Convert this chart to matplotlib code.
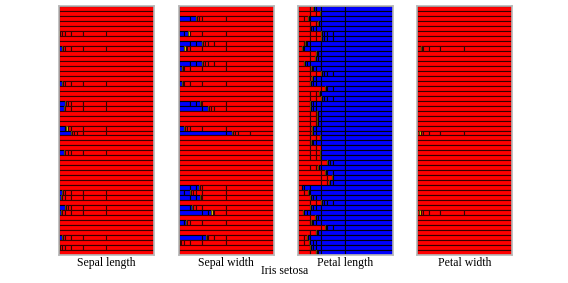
import numpy as np
import matplotlib
matplotlib.use("Agg")
import matplotlib.pyplot as plt

# ---------------- data ----------------
features = ["Sepal length", "Sepal width", "Petal length", "Petal width"]
species = "Iris setosa"
n_rows = 50

# leading segment width per sample (fraction of row), by feature
sepal_length_lead = [0]*50
for r, v in {8: 0.032, 15: 0.028, 19: 0.063, 20: 0.049, 24: 0.077, 25: 0.126,
             29: 0.056, 37: 0.032, 38: 0.018, 40: 0.067, 41: 0.021, 46: 0.032}.items():
    sepal_length_lead[r] = v
sepal_length_mid = [0]*50
for r, v in {5: 0.015, 8: 0.01, 15: 0.012, 19: 0.01, 20: 0.01, 24: 0.018, 25: 0.015,
             29: 0.01, 37: 0.01, 38: 0.01, 40: 0.01, 41: 0.008, 46: 0.01, 48: 0.015}.items():
    sepal_length_mid[r] = v

sepal_width_lead = [0]*50
for r, v in {2: 0.185, 5: 0.105, 7: 0.245, 8: 0.063, 11: 0.245, 12: 0.035, 15: 0.035,
             19: 0.23, 20: 0.31, 24: 0.06, 25: 0.56, 36: 0.213, 37: 0.12, 38: 0.23,
             40: 0.14, 41: 0.343, 43: 0.08, 46: 0.287}.items():
    sepal_width_lead[r] = v
sepal_width_mid = [0]*50
for r, v in {2: 0.012, 5: 0.012, 7: 0.008, 8: 0.012, 11: 0.008, 12: 0.012, 15: 0.015,
             19: 0.01, 20: 0.012, 24: 0.012, 25: 0.015, 36: 0.012, 37: 0.01, 38: 0.012,
             40: 0.014, 41: 0.02, 43: 0.014, 46: 0.012, 47: 0.012}.items():
    sepal_width_mid[r] = v

petal_length_lead = [0.165, 0.23, 0.105, 0.21, 0.135, 0.245, 0.245, 0.08, 0.05, 0.19,
                     0.185, 0.065, 0.14, 0.245, 0.15, 0.13, 0.29, 0.22, 0.245, 0.13,
                     0.125, 0.2, 0.2, 0.2, 0.15, 0.15, 0.23, 0.14, 0.24, 0.23,
                     0.23, 0.31, 0.21, 0.29, 0.36, 0.33, 0.04, 0.11, 0.125, 0.245,
                     0.125, 0.06, 0.18, 0.14, 0.29, 0.19, 0.10, 0.12, 0.13, 0.19]
petal_length_mid = [0.01]*50

petal_width_lead = [0]*50
for r, v in {8: 0.04, 25: 0.025, 41: 0.025}.items():
    petal_width_lead[r] = v
petal_width_mid = [0]*50
for r, v in {8: 0.015, 25: 0.015, 41: 0.015}.items():
    petal_width_mid[r] = v

leads = [sepal_length_lead, sepal_width_lead, petal_length_lead, petal_width_lead]
mids = [sepal_length_mid, sepal_width_mid, petal_length_mid, petal_width_mid]
lead_colors = ["#0000ff", "#0000ff", "#ff0000", "#ff0000"]
rest_colors = ["#ff0000", "#ff0000", "#0000ff", "#ff0000"]
mid_color = "#e8dc00"
edge_of = {"#0000ff": "#000010", "#ff0000": "#3a0000", mid_color: "#5a5000"}


def segments(a, m, lead_c, rest_c, K_lead=4, K_rest=5):
    segs = []
    if a > 0:
        pts = sorted(set([0.0] + [np.floor(a*2**k)/2**k for k in range(1, K_lead+1)] + [a]))
        pts = [p for p in pts if 0 <= p <= a]
        for p0, p1 in zip(pts[:-1], pts[1:]):
            if p1 - p0 > 1e-9:
                segs.append((p0, p1 - p0, lead_c))
    s = a + m
    if m > 0:
        segs.append((a, m, mid_color))
    pts = sorted(set([s] + [np.ceil(s*2**k)/2**k for k in range(1, K_rest+1)] + [1.0]))
    pts = [p for p in pts if s <= p <= 1]
    for p0, p1 in zip(pts[:-1], pts[1:]):
        if p1 - p0 > 1e-9:
            segs.append((p0, p1 - p0, rest_c))
    return segs


W, H = 568, 283
fig = plt.figure(figsize=(W/100, H/100), dpi=100)
plt.rcParams['font.family'] = ['Liberation Serif', 'DejaVu Serif']

lefts = [59, 178.5, 297.7, 416.7]
pw, top, bot = 95, 6, 255
for i in range(4):
    ax = fig.add_axes([lefts[i]/W, (H-bot)/H, pw/W, (bot-top)/H])
    for r in range(n_rows):
        for left, w, c in segments(leads[i][r], mids[i][r], lead_colors[i], rest_colors[i]):
            ax.barh(r, w, left=left, height=1.0, color=c,
                    edgecolor=edge_of[c], linewidth=0.8)
    ax.set_xlim(0, 1)
    ax.set_ylim(n_rows - 0.5, -0.5)
    ax.set_xticks([])
    ax.set_yticks([])
    for sp in ax.spines.values():
        sp.set_color("#b8b8b8")
        sp.set_linewidth(1.2)
    fig.text((lefts[i] + pw/2)/W, 1 - 263/H, features[i], ha="center", va="center",
             fontsize=8.5)

fig.text(285/W, 1 - 271/H, species, ha="center", va="center", fontsize=8.5)
fig.savefig("out.png", dpi=100)
